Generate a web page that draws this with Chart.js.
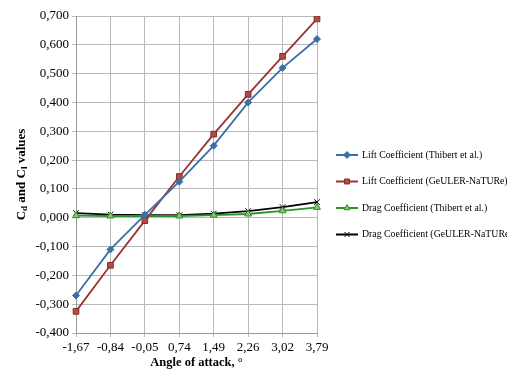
<!DOCTYPE html>
<html>
<head>
<meta charset="utf-8">
<script src="https://cdn.jsdelivr.net/npm/chart.js@4/dist/chart.umd.min.js"></script>
<style>
  body { margin: 0; background: #fff; }
  #wrap { width: 507px; height: 374px; }
</style>
</head>
<body>
<div id="wrap"><canvas id="coef-chart" width="507" height="374"></canvas></div>
<script>
let angles = ['-1,67', '-0,84', '-0,05', '0,74', '1,49', '2,26', '3,02', '3,79']
let liftThibert = [-0.27, -0.11, 0.01, 0.125, 0.25, 0.40, 0.52, 0.62]
let liftGeuler = [-0.325, -0.165, -0.01, 0.143, 0.29, 0.428, 0.56, 0.69]
let dragThibert = [0.007, 0.006, 0.006, 0.006, 0.009, 0.013, 0.024, 0.036]
let dragGeuler = [0.016, 0.011, 0.009, 0.009, 0.014, 0.023, 0.037, 0.054]
let seriesNames = ['Lift Coefficient (Thibert et al.)', 'Lift Coefficient (GeULER-NaTURe)',
    'Drag Coefficient (Thibert et al.)', 'Drag Coefficient (GeULER-NaTURe)']

let serif = '"Liberation Serif", "Times New Roman", serif'

// y axis title with subscripts, drawn rotated
let yTitle = {
    id: 'yTitle',
    afterDraw(chart) {
        let ctx = chart.ctx
        let area = chart.chartArea
        ctx.save()
        ctx.translate(22, (area.top + area.bottom) / 2)
        ctx.rotate(-Math.PI / 2)
        let parts = [['C', 13, 0], ['d', 9, 3], [' and ', 13, 0], ['C', 13, 0], ['l', 9, 3], [' values', 13, 0]]
        let total = 0
        parts.forEach(p => { ctx.font = 'bold ' + p[1] + 'px ' + serif; total += ctx.measureText(p[0]).width })
        let x = -total / 2
        ctx.fillStyle = '#000'
        ctx.textBaseline = 'middle'
        parts.forEach(p => {
            ctx.font = 'bold ' + p[1] + 'px ' + serif
            ctx.fillText(p[0], x, p[2])
            x += ctx.measureText(p[0]).width
        })
        ctx.restore()
    }
}

// legend drawn by hand so the line + marker look matches
let sideLegend = {
    id: 'sideLegend',
    afterDraw(chart) {
        let ctx = chart.ctx
        ctx.save()
        chart.data.datasets.forEach(function(ds, i) {
            let y = 155 + i * 26.5
            ctx.strokeStyle = ds.borderColor
            ctx.lineWidth = 2
            ctx.beginPath()
            ctx.moveTo(336, y)
            ctx.lineTo(358, y)
            ctx.stroke()
            ctx.fillStyle = ds.pointBackgroundColor
            ctx.strokeStyle = ds.pointBorderColor
            ctx.lineWidth = 1
            Chart.helpers.drawPoint(ctx, { pointStyle: ds.pointStyle, radius: 3.5, borderWidth: 1 }, 347, y)
            ctx.fillStyle = '#000'
            ctx.font = '9.8px ' + serif
            ctx.textBaseline = 'middle'
            ctx.fillText(ds.label, 362, y)
        })
        ctx.restore()
    }
}

let ctx = document.querySelector('#coef-chart').getContext('2d')

new Chart(ctx, {
    type: 'line',
    data: {
        labels: angles,
        datasets: [
            { label: seriesNames[0], data: liftThibert, borderColor: '#3b6fa8', pointBackgroundColor: '#3b6fa8', pointBorderColor: '#3b6fa8', pointStyle: 'rectRot', pointRadius: 3.5 },
            { label: seriesNames[1], data: liftGeuler, borderColor: '#9a3431', pointBackgroundColor: '#b24a46', pointBorderColor: '#8a2c29', pointStyle: 'rect', pointRadius: 4 },
            { label: seriesNames[2], data: dragThibert, borderColor: '#2a9330', pointBackgroundColor: '#8fc46a', pointBorderColor: '#2a9330', pointStyle: 'triangle', pointRadius: 4 },
            { label: seriesNames[3], data: dragGeuler, borderColor: '#000', pointBackgroundColor: '#000', pointBorderColor: '#000', pointStyle: 'crossRot', pointRadius: 4 }
        ]
    },
    options: {
        responsive: false,
        animation: false,
        layout: { padding: { top: 16, right: 190, left: 0, bottom: 0 } },
        elements: { line: { borderWidth: 1.8, tension: 0 }, point: { borderWidth: 1 } },
        plugins: { legend: { display: false }, tooltip: { enabled: false } },
        scales: {
            x: {
                offset: false,
                grid: { color: '#b8b8b8', drawTicks: true, tickLength: 4 },
                border: { color: '#999' },
                ticks: { color: '#000', font: { family: serif, size: 13 }, maxRotation: 0, padding: 3 },
                title: { display: true, text: 'Angle of attack, °', color: '#000', font: { family: serif, size: 12.5, weight: 'bold' }, padding: { top: 2 } },
                afterFit(scale) { scale.height = 41 }
            },
            y: {
                min: -0.4,
                max: 0.7,
                grid: { color: '#b8b8b8', tickLength: 4 },
                border: { color: '#999' },
                ticks: {
                    stepSize: 0.1,
                    color: '#000',
                    font: { family: serif, size: 13 },
                    padding: 3,
                    callback: v => v.toFixed(3).replace('.', ',')
                },
                afterFit(scale) { scale.width = 76 }
            }
        }
    },
    plugins: [yTitle, sideLegend]
})
</script>
</body>
</html>
